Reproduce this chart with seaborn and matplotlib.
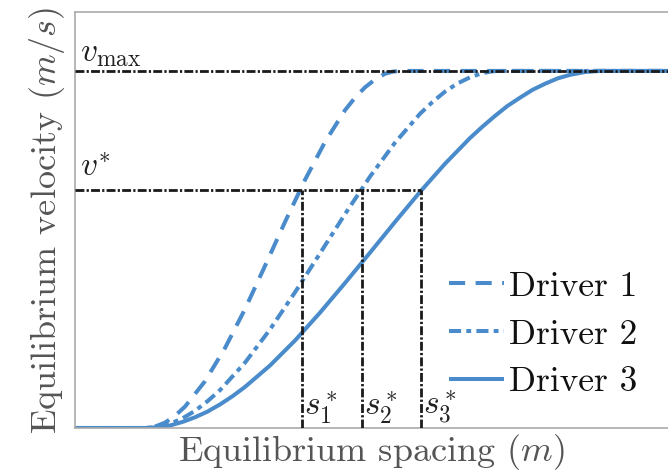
import matplotlib
matplotlib.use("Agg")
import matplotlib.pyplot as plt
import seaborn as sns

sns.set_theme(style="white")
plt.rcParams["font.family"] = ["cmr10", "DejaVu Sans"]
plt.rcParams["mathtext.fontset"] = "cm"
plt.rcParams["axes.formatter.use_mathtext"] = True

# ---- data (spacing in arbitrary units, velocity as fraction of v_max)
d1_x = [0.0, 7.0, 8.0, 9.0, 10.0, 11.0, 13.0, 15.0, 17.0, 19.0, 21.0, 23.0, 25.0, 27.0, 28.0, 29.0,
        30.0, 31.0, 31.75, 32.5, 59.5]
d1_v = [0.0, 0.0, 0.004, 0.015, 0.034, 0.060, 0.131, 0.224, 0.333, 0.454, 0.577, 0.695, 0.801, 0.890, 0.925, 0.954,
        0.976, 0.992, 0.998, 1.0, 1.0]

d2_x = [0.0, 7.0, 8.25, 9.5, 10.75, 12.0, 13.25, 14.5, 17.0, 19.5, 22.0, 24.5, 27.0, 29.5, 32.0, 34.5,
        35.75, 37.0, 38.25, 39.5, 40.75, 41.75, 42.5, 59.5]
d2_v = [0.0, 0.0, 0.003, 0.012, 0.027, 0.048, 0.075, 0.106, 0.183, 0.276, 0.380, 0.489, 0.599, 0.704, 0.799, 0.880,
        0.913, 0.942, 0.965, 0.982, 0.994, 0.999, 1.0, 1.0]

d3_x = [0.0, 7.0, 8.25, 9.5, 10.75, 12.0, 13.25, 14.5, 15.75, 17.0, 19.5, 22.0, 24.5, 27.0, 29.5, 32.0, 34.5,
        37.0, 39.5, 40.75, 42.0, 43.25, 44.5, 45.75, 47.0, 48.25, 49.5, 51.0, 52.5, 59.5]
d3_v = [0.0, 0.0, 0.002, 0.007, 0.017, 0.030, 0.046, 0.066, 0.089, 0.115, 0.175, 0.245, 0.323, 0.406, 0.491, 0.577,
        0.661, 0.740, 0.812, 0.844, 0.874, 0.902, 0.925, 0.947, 0.964, 0.979, 0.989, 0.997, 1.0, 1.0]

driver_labels = ["Driver 1", "Driver 2", "Driver 3"]
v_max = 1.0
v_star = 0.667
s_star = [22.7, 28.7, 34.6]
s_star_labels = [r"$s_1^*$", r"$s_2^*$", r"$s_3^*$"]
x_label = r"Equilibrium spacing $(m)$"
y_label = r"Equilibrium velocity $(m/s)$"

blue = "#4a8bcb"
fig = plt.figure(figsize=(6.68, 4.76), dpi=100)
ax = fig.add_axes([75 / 668, 48 / 476, 1 - 75 / 668, 416 / 476])

styles = [(0, (4.0, 2.6)), (0, (3.0, 1.3, 1.2, 1.3)), "-"]
for xs, vs, lab, ls in zip([d1_x, d2_x, d3_x], [d1_v, d2_v, d3_v], driver_labels, styles):
    sns.lineplot(x=xs, y=vs, ax=ax, color=blue, linewidth=2.9, linestyle=ls, label=lab,
                 solid_capstyle="butt", dash_capstyle="butt", solid_joinstyle="round", zorder=2)

ref_ls = (0, (3.2, 0.8, 0.8, 0.8))
ref_kw = dict(color="#1a1a1a", linewidth=2.0, linestyle=ref_ls, zorder=3)
ax.plot([0, 59.5], [v_max, v_max], **ref_kw)
ax.plot([0, s_star[-1]], [v_star, v_star], **ref_kw)
for s in s_star:
    ax.plot([s, s], [0, v_star], **ref_kw)

for s, lab in zip(s_star, s_star_labels):
    ax.text(s + 0.2, 0.005, lab, fontsize=24, color="#222222", ha="left", va="bottom")
ax.text(0.5, v_max + 0.005, r"$v_{\mathrm{max}}$", fontsize=24, color="#222222", ha="left", va="bottom")
ax.text(0.5, v_star + 0.02, r"$v^{*}$", fontsize=24, color="#222222", ha="left", va="bottom")

ax.set_xlim(0, 59.3)
ax.set_ylim(0, 1.165)
ax.set_xticks([])
ax.set_yticks([])
ax.set_xlabel(x_label, fontsize=26, color="#555555", labelpad=3)
ax.set_ylabel(y_label, fontsize=26, color="#555555", labelpad=6)
for side in ["left", "bottom", "top"]:
    ax.spines[side].set_color("#aaaaaa")
    ax.spines[side].set_linewidth(1.2)
ax.spines["right"].set_visible(False)

leg = ax.legend(loc="upper left", bbox_to_anchor=(449 / 668, 1 - 271 / 476), bbox_transform=fig.transFigure,
                frameon=False, fontsize=25.5, handlelength=1.55, handletextpad=0.15, labelspacing=0.45,
                borderaxespad=0, borderpad=0)
for t in leg.get_texts():
    t.set_color("#111111")

fig.savefig("out.png", dpi=100)
